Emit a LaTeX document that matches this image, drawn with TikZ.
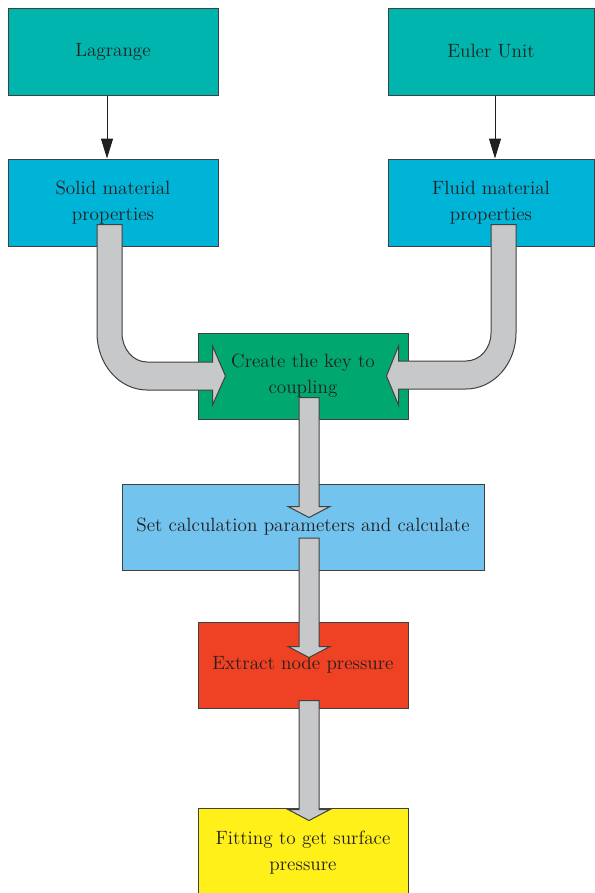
\documentclass[tikz,border=0pt]{standalone}
\usetikzlibrary{arrows.meta,calc}

\definecolor{unitteal}{RGB}{0,181,173}
\definecolor{matcyan}{RGB}{0,180,216}
\definecolor{keygreen}{RGB}{0,168,112}
\definecolor{calcblue}{RGB}{114,195,238}
\definecolor{nodered}{RGB}{239,65,35}
\definecolor{fityellow}{RGB}{255,240,25}
\definecolor{pipegray}{RGB}{199,200,202}
\definecolor{edgegray}{RGB}{64,64,64}
\definecolor{inkdark}{RGB}{35,31,32}

\tikzset{every picture/.style={line width=0.75pt}}
\tikzset{
	flowbox/.style={draw=edgegray, align=center, text=inkdark, inner sep=0pt,
		font=\fontsize{14.4}{19.5}\selectfont},
	smallbox/.style={flowbox, minimum width=157.5pt, minimum height=64.5pt},
	thinarrow/.style={draw=inkdark, -{Triangle[length=15pt,width=9pt]}},
	fatarrow/.style={draw=edgegray, fill=pipegray, line join=miter}
}

% straight grey block arrow: start, tip
\newcommand{\fatdown}[2]{%
	\draw[fatarrow] ($(#1)+(-10,0)$) -- ($(#2)+(-10,-11)$) -- ($(#2)+(-21,-11)$) -- (#2)
		-- ($(#2)+(21,-11)$) -- ($(#2)+(10,-11)$) -- ($(#1)+(10,0)$) -- cycle;}

\begin{document}
\begin{tikzpicture}[x=0.75pt,y=0.75pt,yscale=-1,xscale=1]
	\useasboundingbox (0,0) rectangle (595,893);
	\clip (0,0) rectangle (595,893);

	%Shape: Rectangle [Lagrange]
	\node[smallbox, fill=unitteal, minimum height=65.25pt] (lag) at (113,51.5) {Lagrange};
	%Shape: Rectangle [Euler]
	\node[smallbox, fill=unitteal, minimum width=154.5pt, minimum height=65.25pt] (euler) at (491,51.5) {Euler Unit};
	%Shape: Rectangle [solid]
	\node[smallbox, fill=matcyan, minimum height=65.25pt] (solid) at (113,202.5) {Solid material\\properties};
	%Shape: Rectangle [fluid]
	\node[smallbox, fill=matcyan, minimum width=154.5pt, minimum height=65.25pt] (fluid) at (491,202.5) {Fluid material\\properties};
	%Shape: Rectangle [key]
	\node[smallbox, fill=keygreen] (key) at (303,376) {Create the key to\\coupling};
	%Shape: Rectangle [calc]
	\node[smallbox, fill=calcblue, minimum width=271.5pt] (calc) at (303,527) {Set calculation parameters and calculate};
	%Shape: Rectangle [extract]
	\node[smallbox, fill=nodered] (extract) at (303,665) {Extract node pressure};
	%Shape: Rectangle [fit]
	\node[smallbox, fill=fityellow, minimum height=67.5pt] (fit) at (303,853) {Fitting to get surface\\pressure};

	%Straight Lines
	\draw[thinarrow] ($(lag.south)+(-6,0)$) -- ($(solid.north)+(-6,0)$);
	\draw[thinarrow] ($(euler.south)+(4,0)$) -- ($(fluid.north)+(4,0)$);

	% block arrow ends
	\coordinate (sL) at ($(solid.south)+(-3.5,-22)$);
	\coordinate (tL) at ($(key.west)+(28,0)$);
	\coordinate (sR) at ($(fluid.south)+(12.5,-22)$);
	\coordinate (tR) at ($(key.east)+(-22,0)$);

	%Shape: Bent Arrow [left]
	\draw[fatarrow] ($(sL)+(-12.5,0)$) -- ($(sL |- tL)+(-12.5,-43)$)
		arc[start angle=180, end angle=90, x radius=50, y radius=57]
		-- ($(tL)+(-13,14)$) -- ($(tL)+(-13,29)$) -- (tL) -- ($(tL)+(-13,-30)$) -- ($(tL)+(-13,-14)$)
		-- ($(sL |- tL)+(37.5,-14)$)
		arc[start angle=90, end angle=180, x radius=25, y radius=29]
		-- ($(sL)+(12.5,0)$) -- cycle;
	%Shape: Bent Arrow [right]
	\draw[fatarrow] ($(sR)+(12.5,0)$) -- ($(sR |- tR)+(12.5,-43)$)
		arc[start angle=0, end angle=90, x radius=50, y radius=56]
		-- ($(tR)+(12,13)$) -- ($(tR)+(12,29)$) -- (tR) -- ($(tR)+(12,-30)$) -- ($(tR)+(12,-15)$)
		-- ($(sR |- tR)+(-37.5,-15)$)
		arc[start angle=90, end angle=0, x radius=25, y radius=28]
		-- ($(sR)+(-12.5,0)$) -- cycle;

	%Shape: Block Arrows
	\fatdown{$(key.south)+(6,-22)$}{$(calc.north)+(6,34)$}
	\fatdown{$(calc.center)+(6,11)$}{$(extract.north)+(6,36)$}
	\fatdown{$(extract.south)+(6,-8)$}{$(fit.north)+(6,13)$}

\end{tikzpicture}
\end{document}
